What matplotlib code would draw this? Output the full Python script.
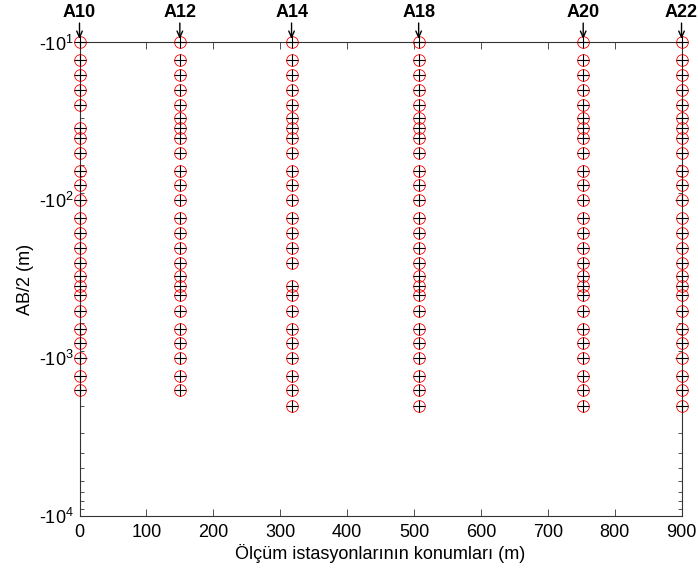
"""Electrode spacing (AB/2) layout along the survey line for each VES station."""

import matplotlib
matplotlib.use("Agg")
import matplotlib.pyplot as plt
from matplotlib.ticker import FixedLocator, FixedFormatter
import numpy as np

plt.rcParams["font.family"] = ["Liberation Sans", "DejaVu Sans"]
plt.rcParams["mathtext.default"] = "regular"

# station names and their position along the profile (m)
stations = ["A10", "A12", "A14", "A18", "A20", "A22"]
positions = [0, 150, 317, 507, 753, 900]

# AB/2 half-spacings measured at each station (m)
ab2_a10 = [10, 13, 16, 20, 25, 35, 40, 50, 65, 80, 100, 130, 160, 200, 250,
           300, 350, 400, 500, 650, 800, 1000, 1300, 1600]
ab2_a12 = [10, 13, 16, 20, 25, 30, 35, 40, 50, 65, 80, 100, 130, 160, 200, 250,
           300, 350, 400, 500, 650, 800, 1000, 1300, 1600]
ab2_a14 = [10, 13, 16, 20, 25, 30, 35, 40, 50, 65, 80, 100, 130, 160, 200, 250,
           350, 400, 500, 650, 800, 1000, 1300, 1600, 2000]
ab2_a18 = [10, 13, 16, 20, 25, 30, 35, 40, 50, 65, 80, 100, 130, 160, 200, 250,
           300, 350, 400, 500, 650, 800, 1000, 1300, 1600, 2000]
ab2_a20 = list(ab2_a18)
ab2_a22 = list(ab2_a18)
spacings = [ab2_a10, ab2_a12, ab2_a14, ab2_a18, ab2_a20, ab2_a22]

x_ticks = [0, 100, 200, 300, 400, 500, 600, 700, 800, 900]
y_ticks = [-10, -100, -1000, -10000]
y_tick_labels = ["-10$^{1}$", "-10$^{2}$", "-10$^{3}$", "-10$^{4}$"]


def _neg_log(y):
    y = np.asarray(y, dtype=float)
    with np.errstate(divide="ignore", invalid="ignore"):
        return -np.log10(np.where(y < 0, -y, np.nan))


def _neg_log_inv(v):
    return -10.0 ** (-np.asarray(v, dtype=float))


fig = plt.figure(figsize=(6.98, 5.75), dpi=100, facecolor="white")
ax = fig.add_axes([0.1139, 0.1026, 0.8625, 0.8235])

for x, ab2 in zip(positions, spacings):
    depth = -np.asarray(ab2, dtype=float)
    xs = np.full(len(depth), x)
    ax.plot(xs, depth, linestyle="none", marker="o", markersize=8.4,
            markerfacecolor="none", markeredgecolor="red", markeredgewidth=0.6,
            clip_on=False, zorder=3)
    ax.plot(xs, depth, linestyle="none", marker="+", markersize=8.4,
            color="black", markeredgewidth=0.8, clip_on=False, zorder=4)

ax.set_yscale("function", functions=(_neg_log, _neg_log_inv))
ax.set_xlim(0, 900)
ax.set_ylim(-10000, -10)

ax.xaxis.set_major_locator(FixedLocator(x_ticks))
ax.yaxis.set_major_locator(FixedLocator(y_ticks))
ax.yaxis.set_major_formatter(FixedFormatter(y_tick_labels))
minor = [-m * 10.0 ** e for e in range(1, 4) for m in range(2, 10)]
ax.yaxis.set_minor_locator(FixedLocator(minor))

ax.tick_params(which="both", direction="in", top=True, right=True,
               labelsize=13, width=0.6, color="#333333")
ax.tick_params(axis="x", pad=6)
ax.tick_params(axis="y", pad=4)
ax.tick_params(which="major", length=5)
ax.tick_params(which="minor", length=3)
for s in ax.spines.values():
    s.set_linewidth(0.8)
    s.set_color("#333333")

ax.set_xlabel("Ölçüm istasyonlarının konumları (m)", fontsize=13, labelpad=2)
ax.set_ylabel("AB/2 (m)", fontsize=13, labelpad=4)

# station markers above the profile
top = ax.get_xaxis_transform()
for name, x in zip(stations, positions):
    ax.annotate("", xy=(x, 1.0), xycoords=top, xytext=(0, 14),
                textcoords="offset points",
                arrowprops=dict(arrowstyle="->,head_length=0.45,head_width=0.2",
                                color="black", lw=1.0, shrinkA=0, shrinkB=2.5))
    ax.annotate(name, xy=(x, 1.0), xycoords=top, xytext=(0, 18.5),
                textcoords="offset points", ha="center", va="baseline",
                fontsize=13, fontweight="bold")

fig.savefig("out.png", dpi=100, facecolor="white")
